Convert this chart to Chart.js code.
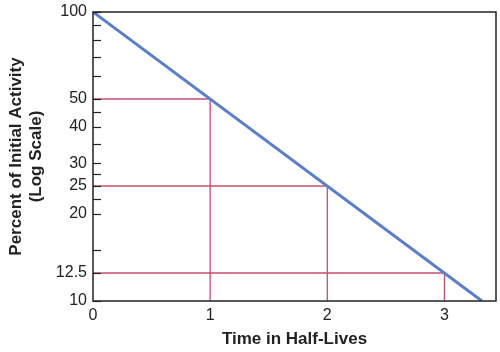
<!DOCTYPE html>
<html>
<head>
<meta charset="utf-8">
<script src="https://cdn.jsdelivr.net/npm/chart.js@4/dist/chart.umd.min.js"></script>
<style>
  html, body { margin: 0; padding: 0; background: #fff; }
  #wrap { width: 500px; height: 352px; }
</style>
</head>
<body>
<div id="wrap"><canvas id="decay"></canvas></div>
<script>
// decay line: percent of initial activity vs half-lives
const decayX = [0, 3.32];
const decayY = [100, 10];

// half-life guide lines (x = half-lives, y = remaining percent)
const halfLives = [1, 2, 3];
const remaining = [50, 25, 12.5];

// axis ticks
const xTicks = [0, 1, 2, 3];
const yLabeled = [10, 12.5, 20, 25, 30, 40, 50, 100];
const yMinor = [15, 22.5, 27.5, 35, 45, 60, 70, 80, 90];

const guideColor = '#c94f6d';
const lineColor = '#5b7ec8';

const datasets = [{
  data: decayX.map((x, i) => ({ x: x, y: decayY[i] })),
  borderColor: lineColor,
  borderWidth: 3,
  pointRadius: 0,
  order: 0
}];
halfLives.forEach((h, i) => {
  datasets.push({
    data: [{ x: 0, y: remaining[i] }, { x: h, y: remaining[i] }, { x: h, y: 10 }],
    borderColor: guideColor,
    borderWidth: 1.3,
    pointRadius: 0,
    order: 1
  });
});

// box round plot and short tick marks on the inside of the y axis
const frame = {
  id: 'frame',
  afterDraw(chart) {
    const { ctx, chartArea: a } = chart;
    const y = chart.scales.y;
    ctx.save();
    ctx.strokeStyle = '#222';
    ctx.lineWidth = 1.5;
    ctx.strokeRect(a.left, a.top, a.right - a.left, a.bottom - a.top);
    ctx.lineWidth = 1.2;
    yLabeled.concat(yMinor).forEach(v => {
      const py = Math.round(y.getPixelForValue(v)) + 0.5;
      ctx.beginPath();
      ctx.moveTo(a.left, py);
      ctx.lineTo(a.left + 8, py);
      ctx.stroke();
    });
    ctx.restore();
  }
};

new Chart(document.getElementById('decay'), {
  type: 'line',
  data: { datasets: datasets },
  plugins: [frame],
  options: {
    responsive: true,
    maintainAspectRatio: false,
    animation: false,
    layout: { padding: { top: 12, right: 4, left: 0, bottom: 0 } },
    plugins: { legend: { display: false }, tooltip: { enabled: false } },
    scales: {
      x: {
        type: 'linear',
        min: 0,
        max: 3.44,
        afterBuildTicks: s => { s.ticks = xTicks.map(v => ({ value: v })); },
        afterFit: s => { s.height = 51; s.paddingLeft = 0; s.paddingRight = 0; },
        grid: { display: false, drawTicks: false },
        border: { display: false },
        ticks: { color: '#222', font: { family: 'Liberation Sans, Arial', size: 16 }, padding: 5, maxRotation: 0 },
        title: {
          display: true,
          text: 'Time in Half-Lives',
          color: '#222',
          font: { family: 'Liberation Sans, Arial', size: 17, weight: 'bold' },
          padding: { top: 8, bottom: 2 }
        }
      },
      y: {
        type: 'logarithmic',
        min: 10,
        max: 100,
        afterBuildTicks: s => { s.ticks = yLabeled.map(v => ({ value: v })); },
        afterFit: s => { s.width = 93; s.paddingTop = 0; s.paddingBottom = 0; },
        grid: { display: false, drawTicks: false },
        border: { display: false },
        ticks: {
          color: '#222',
          font: { family: 'Liberation Sans, Arial', size: 16 },
          padding: 6,
          callback: v => String(v)
        },
        title: {
          display: true,
          text: ['Percent of Initial Activity', '(Log Scale)'],
          color: '#222',
          font: { family: 'Liberation Sans, Arial', size: 17, weight: 'bold' },
          padding: { top: 6, bottom: 0 }
        }
      }
    }
  }
});
</script>
</body>
</html>
